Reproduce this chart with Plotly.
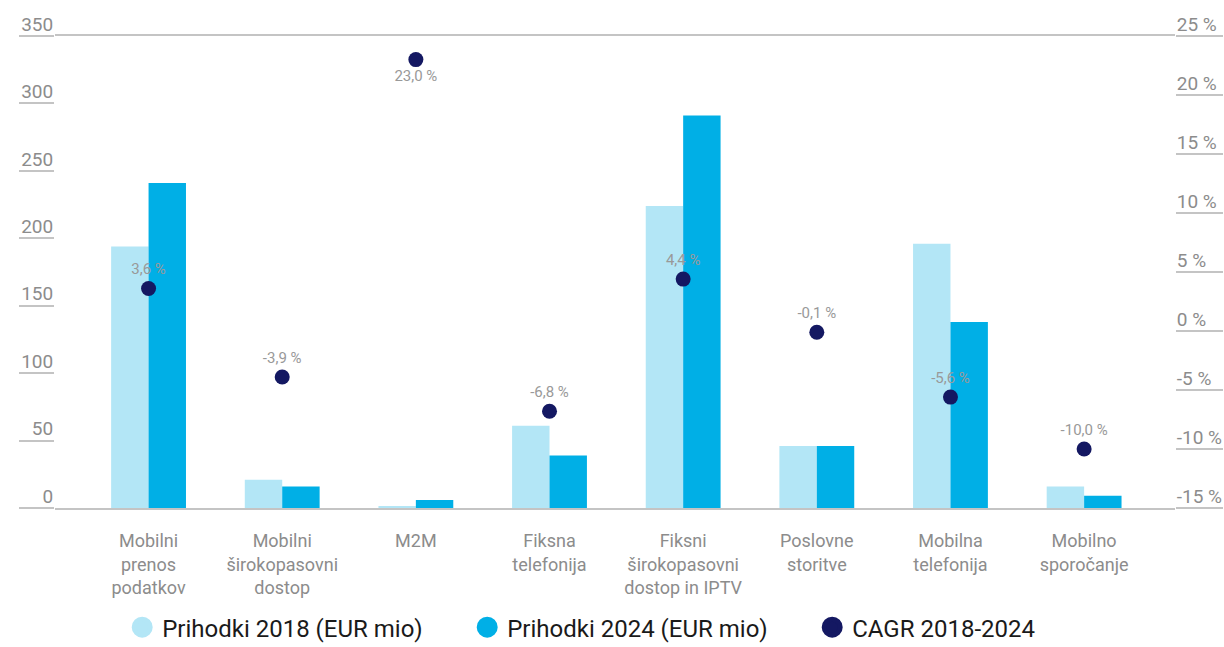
import plotly.graph_objects as go

categories = [
    "Mobilni<br>prenos<br>podatkov",
    "Mobilni<br>širokopasovni<br>dostop",
    "M2M",
    "Fiksna<br>telefonija",
    "Fiksni<br>širokopasovni<br>dostop in IPTV",
    "Poslovne<br>storitve",
    "Mobilna<br>telefonija",
    "Mobilno<br>sporočanje",
]
rev_2018 = [194, 21, 1.5, 61, 224, 46, 196, 16]
rev_2024 = [241, 16, 6, 39, 291, 46, 138, 9]
cagr = [3.6, -3.9, 23.0, -6.8, 4.4, -0.1, -5.6, -10.0]
cagr_labels = ["3,6 %", "-3,9 %", "23,0 %", "-6,8 %", "4,4 %", "-0,1 %", "-5,6 %", "-10,0 %"]
left_ticks = [0, 50, 100, 150, 200, 250, 300, 350]
right_ticks = [-15, -10, -5, 0, 5, 10, 15, 20, 25]
right_tick_text = ["-15 %", "-10 %", "-5 %", "0 %", "5 %", "10 %", "15 %", "20 %", "25 %"]
legend_names = ["Prihodki 2018 (EUR mio)", "Prihodki 2024 (EUR mio)", "CAGR 2018-2024"]

C_LIGHT = "#b3e6f6"
C_DARK = "#00afe6"
C_NAVY = "#141862"
GREY = "#c4c4c4"
TXT = "#8c8c8c"
FONT = "Roboto"

x_idx = list(range(len(categories)))

fig = go.Figure()
fig.add_trace(go.Bar(x=x_idx, y=rev_2018, marker=dict(color=C_LIGHT, line=dict(width=0)),
                     name=legend_names[0], showlegend=False, hoverinfo="y"))
fig.add_trace(go.Bar(x=x_idx, y=rev_2024, marker=dict(color=C_DARK, line=dict(width=0)),
                     name=legend_names[1], showlegend=False, hoverinfo="y"))
positions = ["bottom center" if v > 20 else "top center" for v in cagr]
fig.add_trace(go.Scatter(x=x_idx, y=cagr, yaxis="y2", mode="markers+text",
                         marker=dict(color=C_NAVY, size=15),
                         text=cagr_labels, textposition=positions,
                         textfont=dict(family=FONT, size=15, color="#999999"),
                         name=legend_names[2], showlegend=False, cliponaxis=False))

# legend-only entries with circular symbols
for nm, col in zip(legend_names, [C_LIGHT, C_DARK, C_NAVY]):
    fig.add_trace(go.Scatter(x=[None], y=[None], mode="markers", name=nm,
                             marker=dict(color=col, size=26, symbol="circle",
                                         line=dict(color=col, width=6))))

fig.update_layout(
    width=1224, height=647,
    margin=dict(l=55, r=49, t=36, b=139, autoexpand=False),
    paper_bgcolor="white", plot_bgcolor="white",
    barmode="group", bargap=0.44, bargroupgap=0,
    font=dict(family=FONT, color=TXT),
    xaxis=dict(
        range=[-0.70, 7.68], tickmode="array", tickvals=x_idx, ticktext=categories,
        showgrid=False, zeroline=False, showline=True, mirror=True, automargin=False,
        linecolor=GREY, linewidth=1.5, ticks="", ticklabelstandoff=16,
        tickfont=dict(family=FONT, size=18, color=TXT),
    ),
    yaxis=dict(
        range=[0, 350], tickmode="array", tickvals=left_ticks, automargin=False,
        showgrid=False, zeroline=False, showline=False,
        ticks="outside", ticklen=35, tickcolor=GREY, tickwidth=1.5,
        ticklabelstandoff=-38, ticklabelshift=-12,
        tickfont=dict(family=FONT, size=19, color=TXT),
    ),
    yaxis2=dict(
        range=[-15, 25], overlaying="y", side="right", tickmode="array", automargin=False,
        tickvals=right_ticks, ticktext=right_tick_text,
        showgrid=False, zeroline=False, showline=False,
        ticks="outside", ticklen=47, tickcolor=GREY, tickwidth=1.5,
        ticklabelstandoff=-50, ticklabelshift=-12,
        tickfont=dict(family=FONT, size=19, color=TXT),
    ),
    legend=dict(orientation="h", x=0.06, xanchor="left", y=0.03, yref="container",
                yanchor="middle", entrywidth=300, entrywidthmode="pixels",
                font=dict(family=FONT, size=24, color="#1a1a1a"),
                itemsizing="trace"),
)

fig.write_html("out.html", config={"displayModeBar": False},
               post_script="document.body.style.margin='0';document.body.style.overflow='hidden';")
